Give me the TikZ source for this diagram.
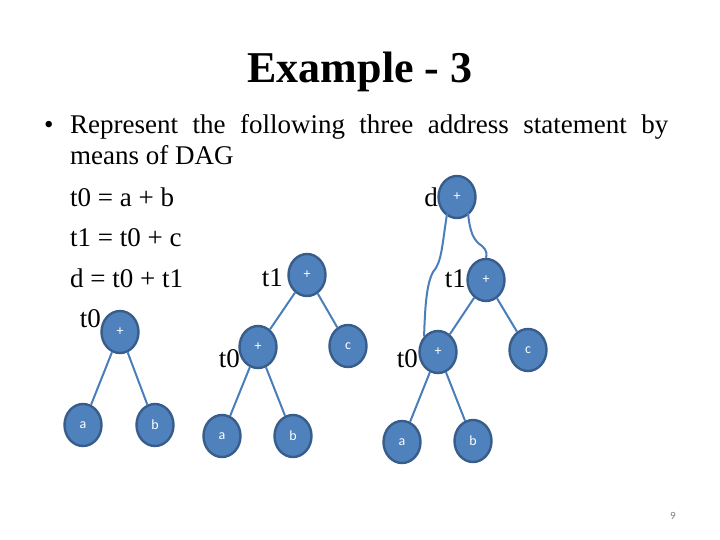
\documentclass[tikz,border=0pt]{standalone}
\usepackage{fontspec}
\setmainfont{Liberation Serif}
\newfontfamily\nodefont{Carlito}
\usetikzlibrary{shapes.geometric}
\definecolor{nodefill}{HTML}{4F81BD}
\definecolor{nodeline}{HTML}{385D8A}
\definecolor{edgecol}{HTML}{4A7EBB}
\tikzset{
  dagnode/.style={ellipse, draw=nodeline, line width=2.4pt, fill=nodefill,
    minimum width=37pt, minimum height=42pt, inner sep=0pt,
    text=white, font=\nodefont\fontsize{14}{16}\selectfont},
  edge/.style={draw=edgecol, line width=2pt},
  txt/.style={inner sep=0pt, anchor=base west, font=\fontsize{27}{30}\selectfont},
  lbl/.style={inner sep=0pt, anchor=base east, font=\fontsize{27}{30}\selectfont}
}
\begin{document}
\begin{tikzpicture}[x=1pt,y=-1pt]
\path[use as bounding box, fill=white] (0,0) rectangle (720,540);
% title
\node[inner sep=0pt, anchor=base, font=\bfseries\fontsize{44}{48}\selectfont] (title) at (360,83) {Example - 3};
% bullet text
\node[inner sep=0pt, anchor=base west, font=\fontsize{27}{30}\selectfont] (bul) at (44,134) {•};
\node[txt] (l1) at (70,134) {\makebox[598pt][s]{Represent the following three address statement by}};
\node[txt] (l2) at (70,165) {means of DAG};
\node[txt] (e1) at (70,207) {t0 = a + b};
\node[txt] (e2) at (70,247) {t1 = t0 + c};
\node[txt] (e3) at (70,287) {d = t0 + t1};
% tree 1
\node[dagnode] (p1) at (120,332) {+};
\node[dagnode] (a1) at (83,425) {a};
\node[dagnode] (b1) at (155,425) {b};
\node[lbl] (t01) at (101,327) {t0};
\draw[edge] (p1) -- (a1);
\draw[edge] (p1) -- (b1);
% tree 2
\node[dagnode] (q1) at (307,275) {+};
\node[dagnode] (q0) at (258,347) {+};
\node[dagnode] (c2) at (348,346) {c};
\node[dagnode] (a2) at (222,436) {a};
\node[dagnode] (b2) at (293,436) {b};
\node[lbl] (t12) at (283,286) {t1};
\node[lbl] (t02) at (240,367) {t0};
\draw[edge] (q1) -- (q0);
\draw[edge] (q1) -- (c2);
\draw[edge] (q0) -- (a2);
\draw[edge] (q0) -- (b2);
% tree 3
\node[dagnode] (r2) at (457,197) {+};
\node[dagnode] (r1) at (486,280) {+};
\node[dagnode] (r0) at (438,352) {+};
\node[dagnode] (c3) at (528,350) {c};
\node[dagnode] (a3) at (402,442) {a};
\node[dagnode] (b3) at (473,441) {b};
\node[lbl] (d3) at (438,207) {d};
\node[lbl] (t13) at (466,287) {t1};
\node[lbl] (t03) at (418,367) {t0};
\draw[edge] (r2.south west) ++(4,1) coordinate (s1)
  (s1) .. controls (442,245) and (442,262) .. (433,272) .. controls (426,285) and (425,310) .. (r0.north west);
\draw[edge] (r2.south east) ++(-3,0) coordinate (s2)
  (s2) .. controls (470,232) and (473,240) .. (482,246) .. controls (487,250) and (487,255) .. (r1.north);
\draw[edge] (r1) -- (r0);
\draw[edge] (r1) -- (c3);
\draw[edge] (r0) -- (a3);
\draw[edge] (r0) -- (b3);
% page number
\node[inner sep=0pt, anchor=base, text=gray, font=\nodefont\fontsize{11}{12}\selectfont] (pg) at (673,519) {9};
\end{tikzpicture}
\end{document}
